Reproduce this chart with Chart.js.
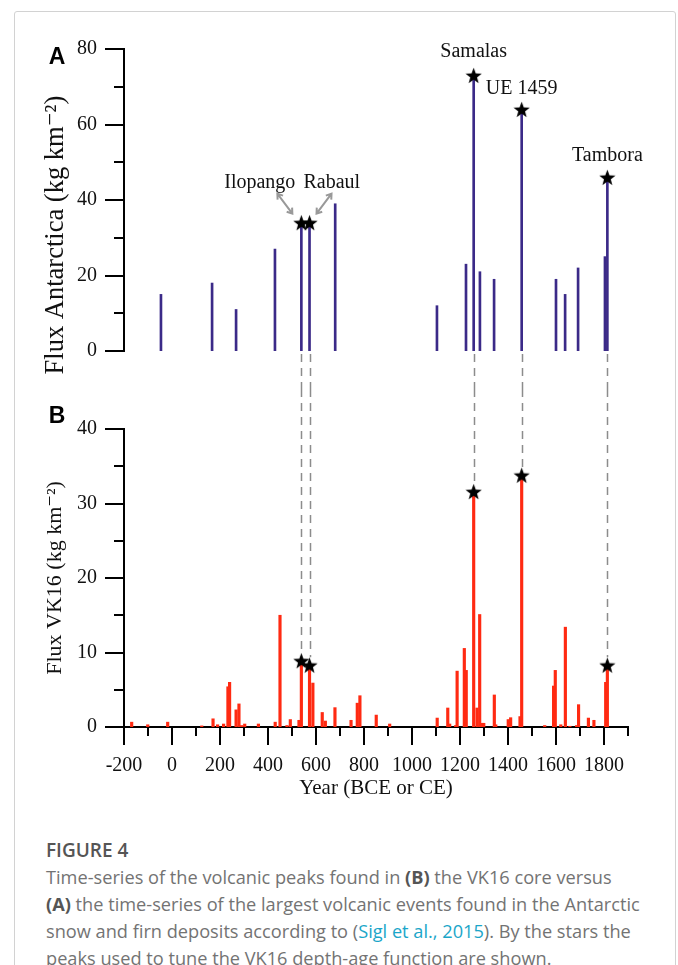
<!DOCTYPE html>
<html>
<head>
<meta charset="utf-8">
<script src="https://cdn.jsdelivr.net/npm/chart.js@4.4.0/dist/chart.umd.min.js"></script>
<style>
  body { margin: 0; background: #fff; }
  #page { position: relative; width: 678px; height: 965px; overflow: hidden; background: #fff; }
  #frame { position: absolute; left: 14px; top: 11px; width: 660px; height: 990px; border: 1px solid #d2d2d2; border-radius: 3px; }
  #chartA { position: absolute; left: 0; top: 0; }
  #chartB { position: absolute; left: 0; top: 390px; }
  #caption { position: absolute; left: 46px; top: 837px; white-space: nowrap;
    font-family: 'Open Sans', sans-serif; font-size: 18.2px; line-height: 27px; color: #737373; }
  #caption .fig { font-weight: 600; font-size: 19px; color: #555; }
  #caption b { font-weight: 700; color: #555; }
  #caption .ref { color: #1ba6c9; }
</style>
</head>
<body>
<div id="page">
  <div id="frame"></div>
  <canvas id="chartA" width="678" height="390"></canvas>
  <canvas id="chartB" width="678" height="420"></canvas>
  <div id="caption">
    <div class="fig">FIGURE 4</div>
    Time-series of the volcanic peaks found in <b>(B)</b> the VK16 core versus<br>
    <b>(A)</b> the time-series of the largest volcanic events found in the Antarctic<br>
    snow and firn deposits according to (<span class="ref">Sigl et al., 2015</span>). By the stars the<br>
    peaks used to tune the VK16 depth-age function are shown.
  </div>
</div>
<script>
// Antarctic record (Sigl et al., 2015)
const antYears = [-46, 167, 267, 429, 539, 573, 680, 1104, 1225, 1257, 1283, 1342, 1457, 1600, 1638, 1692, 1804, 1814];
const antFlux  = [15, 18, 11, 27, 34, 34, 39, 12, 23, 73, 21, 19, 64, 19, 15, 22, 25, 46];

// VK16 core
const vkYears = [-168, -101, -18, 124, 171, 190, 215, 233, 240, 267, 279, 290, 303, 360, 430, 450, 479, 493,
  529, 539, 573, 587, 626, 639, 679, 746, 772, 783, 851, 907, 1105, 1149, 1157, 1182, 1188, 1218, 1226,
  1257, 1271, 1282, 1292, 1299, 1343, 1349, 1401, 1411, 1450, 1457, 1553, 1590, 1597, 1620, 1639, 1658,
  1686, 1694, 1735, 1758, 1807, 1814];
const vkFlux = [0.65, 0.3, 0.65, 0.15, 1.1, 0.3, 0.4, 5.4, 6.0, 2.3, 3.1, 0.2, 0.4, 0.4, 0.65, 15.0, 0.2, 1.0,
  0.9, 8.9, 8.3, 5.9, 1.95, 0.8, 2.6, 0.9, 3.2, 4.2, 1.6, 0.4, 1.2, 2.55, 0.4, 0.2, 7.5, 10.55, 7.6,
  31.6, 2.55, 15.1, 0.5, 0.5, 4.3, 0.3, 1.0, 1.25, 1.4, 33.8, 0.2, 5.5, 7.6, 0.3, 13.4, 0.1,
  0.2, 3.0, 1.2, 0.9, 6.0, 8.3];

// tie points (stars)
const eventNames  = ['Ilopango', 'Rabaul', 'Samalas', 'UE 1459', 'Tambora'];
const starYears   = [539, 573, 1257, 1457, 1814];
const antStarFlux = [34, 34, 73, 64, 46];
const vkStarFlux  = [8.9, 8.3, 31.6, 33.8, 8.3];

const serif = "'Liberation Serif', 'Times New Roman', 'DejaVu Serif', serif";
const xMin = -200, xMax = 1900;

// filled five point star used as marker
function makeStar(size) {
  const c = document.createElement('canvas');
  c.width = size; c.height = size;
  const g = c.getContext('2d');
  const cx = size / 2, cy = size / 2 + 0.8, R = size / 2, r = R * 0.42;
  g.beginPath();
  for (let i = 0; i < 10; i++) {
    const rad = i % 2 ? r : R;
    const a = -Math.PI / 2 + i * Math.PI / 5;
    g.lineTo(cx + rad * Math.cos(a), cy + rad * Math.sin(a));
  }
  g.closePath();
  g.fillStyle = '#000';
  g.fill();
  return c;
}
const star = makeStar(17);

const pts = (xs, ys) => xs.map((x, i) => ({x: x, y: ys[i]}));

// axis tick marks, long on labelled values, short halfway
function tickPlugin(yStep, withX) {
  return {
    id: 'ticks',
    afterDraw(chart) {
      const ctx = chart.ctx, area = chart.chartArea;
      const y = chart.scales.y;
      ctx.save();
      ctx.strokeStyle = '#000';
      ctx.lineWidth = 2;
      for (let v = y.min; v <= y.max + 1e-9; v += yStep / 2) {
        const len = Math.abs(v % yStep) < 1e-9 ? 19 : 10;
        const py = Math.round(y.getPixelForValue(v));
        ctx.beginPath();
        ctx.moveTo(area.left - len, py);
        ctx.lineTo(area.left, py);
        ctx.stroke();
      }
      if (withX) {
        const x = chart.scales.x;
        for (let v = xMin; v <= xMax; v += 100) {
          const len = (v % 200 === 0) ? 18 : 9;
          const px = Math.round(x.getPixelForValue(v));
          ctx.beginPath();
          ctx.moveTo(px, area.bottom);
          ctx.lineTo(px, area.bottom + len);
          ctx.stroke();
        }
      }
      ctx.restore();
    }
  };
}

function arrow(ctx, x1, y1, x2, y2) {
  const a = Math.atan2(y2 - y1, x2 - x1), h = 6;
  ctx.beginPath();
  ctx.moveTo(x1, y1); ctx.lineTo(x2, y2);
  ctx.moveTo(x2 - h * Math.cos(a - 0.6), y2 - h * Math.sin(a - 0.6));
  ctx.lineTo(x2, y2);
  ctx.lineTo(x2 - h * Math.cos(a + 0.6), y2 - h * Math.sin(a + 0.6));
  ctx.moveTo(x1 + h * Math.cos(a - 0.6), y1 + h * Math.sin(a - 0.6));
  ctx.lineTo(x1, y1);
  ctx.lineTo(x1 + h * Math.cos(a + 0.6), y1 + h * Math.sin(a + 0.6));
  ctx.stroke();
}

const dash = [8, 6];

const annotA = {
  id: 'annotA',
  beforeDatasetsDraw(chart) {
    const ctx = chart.ctx, x = chart.scales.x, y = chart.scales.y;
    ctx.save();
    ctx.strokeStyle = '#8c8c8c';
    ctx.lineWidth = 1.5;
    ctx.setLineDash(dash);
    starYears.forEach(yr => {
      const px = Math.round(x.getPixelForValue(yr)) + 0.5;
      ctx.beginPath();
      ctx.moveTo(px, y.getPixelForValue(0) + 3);
      ctx.lineTo(px, chart.height);
      ctx.stroke();
    });
    ctx.restore();
  },
  afterDraw(chart) {
    const ctx = chart.ctx, x = chart.scales.x, y = chart.scales.y;
    ctx.save();
    ctx.fillStyle = '#000';
    ctx.font = "bold 23px 'Liberation Sans', Arial, sans-serif";
    ctx.textAlign = 'center';
    ctx.textBaseline = 'middle';
    ctx.fillText('A', 57, 58);

    // y axis title
    ctx.save();
    ctx.translate(56, 235);
    ctx.rotate(-Math.PI / 2);
    ctx.font = '26.5px ' + serif;
    ctx.fillStyle = '#111';
    ctx.fillText('Flux Antarctica (kg km\u207B\u00B2)', 0, 0);
    ctx.restore();

    ctx.font = '20px ' + serif;
    ctx.fillStyle = '#111';
    const sx = starYears.map(v => x.getPixelForValue(v));
    const sy = antStarFlux.map(v => y.getPixelForValue(v));
    ctx.textAlign = 'right';
    ctx.fillText(eventNames[0], sx[0] - 6, sy[0] - 40);
    ctx.textAlign = 'left';
    ctx.fillText(eventNames[1], sx[1] - 6, sy[1] - 40);
    ctx.textAlign = 'center';
    ctx.fillText(eventNames[2], sx[2], sy[2] - 24);
    ctx.fillText(eventNames[3], sx[3], sy[3] - 21);
    ctx.fillText(eventNames[4], sx[4], sy[4] - 22);

    ctx.strokeStyle = '#999';
    ctx.lineWidth = 2;
    arrow(ctx, sx[0] - 24, sy[0] - 29, sx[0] - 9, sy[0] - 9);
    arrow(ctx, sx[1] + 22, sy[1] - 29, sx[1] + 7, sy[1] - 9);
    ctx.restore();
  }
};

const annotB = {
  id: 'annotB',
  beforeDatasetsDraw(chart) {
    const ctx = chart.ctx, x = chart.scales.x, y = chart.scales.y;
    ctx.save();
    ctx.strokeStyle = '#8c8c8c';
    ctx.lineWidth = 1.5;
    ctx.setLineDash(dash);
    ctx.lineDashOffset = 1;
    starYears.forEach((yr, i) => {
      const px = Math.round(x.getPixelForValue(yr)) + 0.5;
      ctx.beginPath();
      ctx.moveTo(px, 0);
      ctx.lineTo(px, y.getPixelForValue(vkStarFlux[i]) - 8);
      ctx.stroke();
    });
    ctx.restore();
  },
  afterDraw(chart) {
    const ctx = chart.ctx;
    ctx.save();
    ctx.fillStyle = '#000';
    ctx.font = "bold 23px 'Liberation Sans', Arial, sans-serif";
    ctx.textAlign = 'center';
    ctx.textBaseline = 'middle';
    ctx.fillText('B', 57, 27);
    ctx.restore();
  }
};

const yWidth = s => { s.width = 124; };

new Chart(document.getElementById('chartA'), {
  type: 'bar',
  data: {
    datasets: [{
      type: 'line',
      data: pts(starYears, antStarFlux),
      showLine: false,
      pointStyle: star,
      pointRadius: 8,
      order: 1
    }, {
      data: pts(antYears, antFlux),
      backgroundColor: '#3b2a88',
      barThickness: 2,
      order: 2
    }]
  },
  options: {
    responsive: false,
    animation: false,
    layout: { padding: { left: 0, right: 50, top: 49, bottom: 32 } },
    plugins: { legend: { display: false }, tooltip: { enabled: false } },
    scales: {
      x: { type: 'linear', min: xMin, max: xMax, offset: false, display: false },
      y: {
        min: 0, max: 80,
        afterFit: yWidth,
        grid: { display: false, drawTicks: false },
        border: { display: true, color: '#000', width: 2 },
        ticks: { stepSize: 20, padding: 27, color: '#111', font: { family: serif, size: 20 } }
      }
    }
  },
  plugins: [annotA, tickPlugin(20, false)]
});

new Chart(document.getElementById('chartB'), {
  type: 'bar',
  data: {
    datasets: [{
      type: 'line',
      data: pts(starYears, vkStarFlux),
      showLine: false,
      pointStyle: star,
      pointRadius: 8,
      order: 1
    }, {
      data: pts(vkYears, vkFlux),
      backgroundColor: '#ff2a12',
      barThickness: 2.5,
      order: 2
    }]
  },
  options: {
    responsive: false,
    animation: false,
    layout: { padding: { left: 0, right: 50, top: 29, bottom: 0 } },
    plugins: { legend: { display: false }, tooltip: { enabled: false } },
    scales: {
      x: {
        type: 'linear', min: xMin, max: xMax, offset: false,
        afterFit: s => { s.height = 83; },
        grid: { display: false, drawTicks: false },
        border: { display: true, color: '#000', width: 2 },
        ticks: { stepSize: 200, includeBounds: false, padding: 27, maxRotation: 0, autoSkip: false,
          callback: v => String(v),
          color: '#111', font: { family: serif, size: 20 } },
        title: { display: true, text: 'Year (BCE or CE)', color: '#111',
          font: { family: serif, size: 21 }, padding: { top: 0, bottom: 9 } }
      },
      y: {
        min: 0, max: 40,
        afterFit: yWidth,
        grid: { display: false, drawTicks: false },
        border: { display: true, color: '#000', width: 2 },
        ticks: { stepSize: 10, padding: 27, color: '#111', font: { family: serif, size: 20 } },
        title: { display: true, text: 'Flux VK16 (kg km\u207B\u00B2)', color: '#111',
          font: { family: serif, size: 22 }, padding: { top: 42, bottom: 0 } }
      }
    }
  },
  plugins: [annotB, tickPlugin(10, true)]
});
</script>
</body>
</html>
